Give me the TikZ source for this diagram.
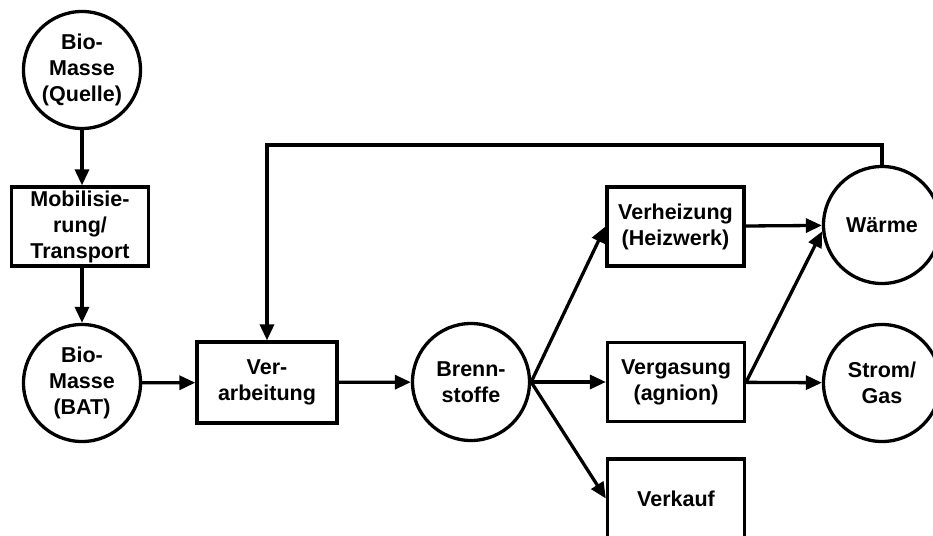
\documentclass[tikz,border=0pt]{standalone}
\usepackage{fontspec}
\setmainfont{Liberation Sans}
\usetikzlibrary{arrows.meta}
\begin{document}
\begin{tikzpicture}[x=1pt,y=-1pt,
  line width=3.3pt,
  every node/.style={font=\fontsize{21.5}{26}\selectfont\bfseries, align=center, inner sep=0pt},
  stock/.style={draw, circle, minimum size=117pt},
  proc/.style={draw, rectangle, minimum width=137pt, minimum height=79pt},
  flow/.style={-{Triangle[length=16pt,width=14pt]}}]
  \clip (0,0) rectangle (933,535);
  \fill[white] (0,0) rectangle (933,535);

  % stocks and products
  \node[stock] (quelle) at (82,70) {Bio-\\Masse\\(Quelle)};
  \node[stock] (bat) at (82,383) {Bio-\\Masse\\(BAT)};
  \node[stock] (brenn) at (471,382) {Brenn-\\stoffe};
  \node[stock] (waerme) at (882,225) {Wärme};
  \node[stock] (strom) at (882,383) {Strom/\\Gas};

  % process steps
  \node[proc] (mobil) at (80,226.5) {Mobilisie-\\rung/\\Transport};
  \node[proc, minimum width=140pt, minimum height=81pt] (verarb) at (267,382.5) {Ver-\\arbeitung};
  \node[proc] (heiz) at (675.5,226.5) {Verheizung\\(Heizwerk)};
  \node[proc] (vergas) at (676,382) {Vergasung\\(agnion)};
  \node[proc] (verkauf) at (676,498.5) {Verkauf};

  % material flows
  \draw[flow] (quelle) -- (quelle |- mobil.north);
  \draw[flow] (quelle |- mobil.south) -- (bat);
  \draw[flow] (bat) -- (verarb);
  \draw[flow] (verarb) -- (brenn);
  \draw[flow] (brenn.east) -- (heiz.west);
  \draw[flow] (brenn.east) -- (vergas.west);
  \draw[flow] (brenn.east) -- (verkauf.west);
  \draw[flow] (heiz) -- (waerme);
  \draw[flow] (vergas.east) -- (waerme.186);
  \draw[flow] (vergas) -- (strom);

  % heat returned to processing
  \coordinate (ret) at (waerme.north |- 0,145);
  \draw[flow, line join=miter] (waerme.north) -- (ret) -| (verarb.north);
\end{tikzpicture}
\end{document}
